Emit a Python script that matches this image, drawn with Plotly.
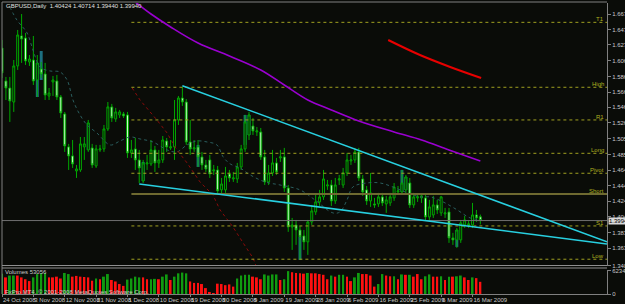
import plotly.graph_objects as go

# ---------------- data ----------------
idx = list(range(123))
opens = [1.6234,1.5806,1.5715,1.5533,1.6001,1.6390,1.6364,1.6053,1.6078,1.5819,
         1.5962,1.5897,1.5611,1.5793,1.5806,1.5598,1.5378,1.4950,1.4833,1.4638,
         1.4651,1.4950,1.4911,1.4937,1.4703,1.4911,1.4924,1.5183,1.5469,1.5313,
         1.5365,1.5378,1.5365,1.4872,1.4924,1.4781,1.4508,1.4729,1.4729,1.4911,
         1.4742,1.4781,1.5027,1.4937,1.4950,1.5300,1.5585,1.5533,1.5014,1.4924,
         1.4950,1.4820,1.4716,1.4781,1.4638,1.4651,1.4392,1.4392,1.4599,1.4534,
         1.4534,1.4690,1.4924,1.5105,1.5222,1.5144,1.5144,1.4820,1.4495,1.4612,
         1.4742,1.4807,1.4820,1.4417,1.3911,1.3937,1.3872,1.3795,1.3717,1.3976,
         1.4106,1.4236,1.4301,1.4443,1.4456,1.4249,1.4521,1.4456,1.4612,1.4768,
         1.4781,1.4885,1.4534,1.4392,1.4249,1.4210,1.4210,1.4301,1.4210,1.4223,
         1.4288,1.4366,1.4366,1.4392,1.4482,1.4197,1.4288,1.4288,1.4288,1.4041,
         1.4067,1.4197,1.4093,1.4080,1.4106,1.3769,1.3743,1.3743,1.3937,1.3937,
         1.3937,1.4067,1.40424]
highs = [1.6338,1.5858,1.5858,1.6078,1.6468,1.6675,1.6429,1.6143,1.6390,1.6143,
         1.6053,1.6040,1.5715,1.5871,1.5884,1.5624,1.5404,1.4989,1.5040,1.4716,
         1.5079,1.5079,1.5300,1.4989,1.4976,1.4976,1.5235,1.5533,1.5508,1.5456,
         1.5430,1.5404,1.5404,1.5040,1.5066,1.4911,1.4781,1.4846,1.5040,1.4963,
         1.4911,1.5092,1.5066,1.5040,1.5559,1.5611,1.5728,1.5572,1.5300,1.5040,
         1.5040,1.4885,1.4781,1.4846,1.4716,1.4703,1.4547,1.4690,1.4651,1.4625,
         1.4742,1.4976,1.5365,1.5404,1.5326,1.5209,1.5196,1.4911,1.4716,1.4911,
         1.4807,1.4911,1.4937,1.4456,1.4028,1.4002,1.3924,1.3872,1.4002,1.4197,
         1.4327,1.4392,1.4651,1.4521,1.4521,1.4547,1.4586,1.4677,1.4872,1.4846,
         1.4937,1.4937,1.4586,1.4443,1.4612,1.4288,1.4353,1.4353,1.4314,1.4353,
         1.4482,1.4443,1.4651,1.4586,1.4547,1.4353,1.4340,1.4340,1.4327,1.4262,
         1.4314,1.4262,1.4314,1.4158,1.4158,1.3834,1.3898,1.4002,1.4054,1.4002,
         1.4223,1.4132,1.40714]
lows = [1.5845,1.5559,1.5274,1.5404,1.5949,1.6040,1.6014,1.6001,1.5754,1.5598,
        1.5845,1.5559,1.5559,1.5611,1.5559,1.5326,1.4885,1.4651,1.4677,1.4547,
        1.4625,1.4781,1.4885,1.4677,1.4677,1.4885,1.4885,1.5157,1.5274,1.5274,
        1.5326,1.5326,1.4807,1.4807,1.4651,1.4482,1.4482,1.4651,1.4703,1.4625,
        1.4677,1.4742,1.4885,1.4911,1.4781,1.5235,1.5482,1.4976,1.4846,1.4885,
        1.4690,1.4651,1.4625,1.4547,1.4586,1.4340,1.4340,1.4353,1.4495,1.4495,
        1.4482,1.4651,1.4885,1.5040,1.5105,1.5092,1.4781,1.4456,1.4456,1.4573,
        1.4586,1.4755,1.4366,1.3847,1.3613,1.3678,1.3483,1.3613,1.3548,1.3937,
        1.4067,1.4184,1.4262,1.4392,1.4184,1.4210,1.4456,1.4417,1.4573,1.4716,
        1.4742,1.4508,1.4314,1.4197,1.4171,1.4158,1.4171,1.4184,1.4093,1.4184,
        1.4249,1.4327,1.4327,1.4340,1.4158,1.4158,1.4236,1.4223,1.3989,1.4002,
        1.4028,1.4080,1.4054,1.4028,1.3704,1.3678,1.3639,1.3704,1.3898,1.3898,
        1.3898,1.3976,1.39440]
closes = [1.5910,1.5715,1.5546,1.6001,1.6403,1.6351,1.6066,1.6091,1.5806,1.6040,
          1.5897,1.5624,1.5650,1.5819,1.5598,1.5391,1.4963,1.4833,1.4729,1.4664,
          1.4989,1.4989,1.5261,1.4716,1.4924,1.4924,1.5183,1.5469,1.5326,1.5404,
          1.5404,1.5352,1.4872,1.4911,1.4781,1.4677,1.4742,1.4742,1.4911,1.4742,
          1.4781,1.5040,1.4950,1.4950,1.5300,1.5585,1.5533,1.5014,1.4924,1.4937,
          1.4820,1.4716,1.4664,1.4599,1.4651,1.4379,1.4469,1.4573,1.4547,1.4547,
          1.4690,1.4924,1.5274,1.5365,1.5157,1.5157,1.4820,1.4495,1.4612,1.4742,
          1.4625,1.4820,1.4417,1.3911,1.3937,1.3872,1.3782,1.3717,1.3976,1.4119,
          1.4236,1.4301,1.4534,1.4456,1.4249,1.4456,1.4534,1.4612,1.4781,1.4781,
          1.4885,1.4547,1.4366,1.4249,1.4353,1.4197,1.4301,1.4223,1.4262,1.4301,
          1.4430,1.4379,1.4482,1.4560,1.4197,1.4301,1.4301,1.4314,1.4041,1.4171,
          1.4197,1.4132,1.4301,1.4093,1.3769,1.3743,1.3872,1.3963,1.4002,1.3950,
          1.4067,1.4028,1.39940]

volumes = [54600,45000,50000,50000,50000,45000,40000,35000,45000,54000,
           56000,57000,45000,45000,47000,42000,57000,54000,47000,49000,
           47000,46000,45000,36000,42000,40000,47000,54000,38000,34000,
           27000,22000,39000,42000,47000,45000,45000,40000,40000,41000,
           40000,47000,53000,38000,47000,56000,58000,56000,34000,30000,
           30000,27000,16000,4000,2000,28000,27000,24000,26000,20000,
           42000,50000,52000,52000,47000,45000,40000,53000,50000,53000,
           53000,38000,40000,62000,59000,57000,56000,55000,57000,56000,
           56000,54000,52000,40000,50000,47000,52000,52000,47000,35000,
           45000,57000,54000,54000,50000,20000,27000,54000,50000,48000,
           48000,40000,53000,52000,52000,47000,54000,40000,48000,53000,
           47000,47000,48000,38000,47000,47000,48000,50000,45000,38000,
           45000,43000,33000]
volume_rising = [1,0,1,1,0,0,0,0,1,1,1,1,0,0,0,0,1,1,0,0,0,0,0,0,1,0,1,1,0,0,
                 0,0,1,1,1,1,0,0,1,1,0,1,1,0,1,1,1,1,0,0,0,0,0,0,0,0,0,0,0,0,
                 1,1,1,1,0,0,0,1,1,1,1,0,1,1,0,0,0,0,1,0,0,0,0,0,1,0,1,1,0,0,
                 1,1,0,0,0,0,1,1,0,0,1,0,1,0,1,0,0,0,1,1,0,0,1,0,1,0,1,1,0,0,
                 1,0,0]
volume_label = "Volumes 53056"
volume_max_label = 62348

teal_idx = [9, 10, 22, 36, 50, 62, 63, 76, 102, 103, 116]
teal_lo = [1.5598, 1.5819, 1.4911, 1.4508, 1.4690, 1.4976, 1.5105, 1.3483, 1.4366, 1.4392, 1.3652]
teal_hi = [1.6040, 1.6195, 1.5261, 1.4755, 1.4976, 1.5365, 1.5365, 1.3782, 1.4651, 1.4560, 1.3872]

fast_ma_x = [2.0,3.8,6.4,7.9,9.7,12.2,14.8,16.6,18.1,19.9,21.7,24.2,27.6,30.1,32.7,35.2,38.5,
             42.1,44.6,47.2,49.7,52.3,54.8,56.4,58.2,60.7,63.3,67.1,70.9,76.0,79.8,84.4,
             86.2,88.0,89.5,93.1,96.4,99.7,102.8,106.6,109.2,112.5,116.1,119.4,122.2]
fast_ma_y = [1.6766,1.6597,1.6429,1.6208,1.5988,1.5936,1.5923,1.5819,1.5559,1.5365,1.5235,
             1.5131,1.4975,1.5027,1.5079,1.5053,1.5014,1.4911,1.4885,1.4976,1.5027,1.5014,
             1.4976,1.4820,1.4729,1.4677,1.4586,1.4495,1.4456,1.4392,1.4262,1.4093,1.4106,
             1.4262,1.4430,1.4482,1.4482,1.4430,1.4366,1.4301,1.4301,1.4236,1.4132,1.4028,1.4002]

purple_ma_x = [33, 38, 43, 50, 58, 66, 72, 78, 84, 91, 100, 107, 114, 122]
purple_ma_y = [1.6870,1.6675,1.6507,1.6299,1.6130,1.5949,1.5754,1.5559,1.5430,1.5287,
               1.5144,1.5040,1.4911,1.4768]

red_ma_x = [98.5, 106.6, 114.3, 122.2]
red_ma_y = [1.6338, 1.6143, 1.5988, 1.5845]

red_dot_x = [33.2, 35.2, 39.5, 42.1, 44.6, 47.2, 50.5, 53.8, 55.6, 58.9, 61.5, 64.0, 64.8]
red_dot_y = [1.5715,1.5559,1.5300,1.5131,1.4911,1.4742,1.4495,1.4327,1.4132,1.3911,
             1.3704,1.3509,1.3405]

level_names = ["T1", "High", "R1", "Long", "Pivot", "Short", "S1", "Low"]
level_values = [1.6567, 1.5724, 1.5300, 1.4867, 1.4608, 1.4339, 1.3924, 1.3492]
level_start = 33

trend_upper = [(46, 1.5745), (122, 1.4323)]
trend_lower = [(35, 1.4469), (122, 1.3901)]

price_ticks = [1.66750, 1.64710, 1.62730, 1.60690, 1.58650, 1.56610, 1.54670, 1.52630,
               1.50550, 1.48510, 1.46470, 1.44430, 1.42450, 1.40410, 1.38370, 1.36330, 1.34050]
date_idx = [0, 8, 16, 24, 32, 40, 48, 56, 64, 72, 80, 88, 96, 104, 112, 120]
date_labels = ["24 Oct 2008", "3 Nov 2008", "12 Nov 2008", "21 Nov 2008", "1 Dec 2008",
               "10 Dec 2008", "19 Dec 2008", "30 Dec 2008", "9 Jan 2009", "19 Jan 2009",
               "28 Jan 2009", "6 Feb 2009", "16 Feb 2009", "25 Feb 2009", "6 Mar 2009",
               "16 Mar 2009"]
symbol = "GBPUSD,Daily"
last_price = 1.39940
copyright_text = "FxPro MT4, © 2001-2008 MetaQuotes Software Corp."

# ---------------- styling / layout constants ----------------
W, H = 625, 304
BG = "#0a0c08"
GRID = "#808080"
TXT = "#c8c8c8"
FONT = "Liberation Sans"
FS = 6
X_MAX = 154.3
Y_MIN, Y_MAX = 1.3404, 1.6818


def px_x(p):
    return p / W


def px_y(p):
    return (H - p) / H


fig = go.Figure()

# teal overlay bars
fig.add_trace(go.Bar(x=teal_idx, y=[hi - lo for hi, lo in zip(teal_hi, teal_lo)], base=teal_lo,
                     width=0.75, marker=dict(color="#1d7080", line=dict(width=0)),
                     xaxis="x", yaxis="y", hoverinfo="skip"))

# moving averages / dotted lines
fig.add_trace(go.Scatter(x=fast_ma_x, y=fast_ma_y, mode="lines",
                         line=dict(color="#2a5e5e", width=1, dash="dot", shape="spline"),
                         xaxis="x", yaxis="y", hoverinfo="skip"))
fig.add_trace(go.Scatter(x=red_dot_x, y=red_dot_y, mode="lines",
                         line=dict(color="#8a0a0a", width=1, dash="dot"),
                         xaxis="x", yaxis="y", hoverinfo="skip"))

# levels
for name, val in zip(level_names, level_values):
    if name == "Short":
        ln = dict(color="#6e6a30", width=2)
    else:
        ln = dict(color="#a0a020", width=1, dash="dot")
    fig.add_trace(go.Scatter(x=[level_start, X_MAX], y=[val, val], mode="lines", line=ln,
                             xaxis="x", yaxis="y", hoverinfo="skip"))
    fig.add_annotation(x=px_x(605), xref="paper", xanchor="right", y=val, yref="y",
                       yanchor="bottom", text=name, showarrow=False, yshift=-1,
                       font=dict(family=FONT, size=FS, color="#b0b020"), borderpad=0)

# current price line
fig.add_trace(go.Scatter(x=[0, X_MAX], y=[last_price, last_price], mode="lines",
                         line=dict(color="#707070", width=1), xaxis="x", yaxis="y",
                         hoverinfo="skip"))

# candles
fig.add_trace(go.Candlestick(x=idx, open=opens, high=highs, low=lows, close=closes,
                             increasing=dict(line=dict(color="#00a800", width=1), fillcolor=BG),
                             decreasing=dict(line=dict(color="#00a800", width=1), fillcolor="#d6ffd6"),
                             whiskerwidth=0, xaxis="x", yaxis="y", hoverinfo="skip"))

# purple and red MAs
fig.add_trace(go.Scatter(x=purple_ma_x, y=purple_ma_y, mode="lines",
                         line=dict(color="#9a00d0", width=1.6, shape="spline"),
                         xaxis="x", yaxis="y", hoverinfo="skip"))
fig.add_trace(go.Scatter(x=red_ma_x, y=red_ma_y, mode="lines",
                         line=dict(color="#e80000", width=2, shape="spline"),
                         xaxis="x", yaxis="y", hoverinfo="skip"))


# trend lines (rays extended to the right edge)
def ray(pts):
    (x0, y0), (x1, y1) = pts
    slope = (y1 - y0) / (x1 - x0)
    return [x0, X_MAX], [y0, y0 + slope * (X_MAX - x0)]


for tl in (trend_upper, trend_lower):
    xs, ys = ray(tl)
    fig.add_trace(go.Scatter(x=xs, y=ys, mode="lines", line=dict(color="#28d0e0", width=1.6),
                             xaxis="x", yaxis="y", hoverinfo="skip"))

# volumes
vol_colors = ["#109a10" if r else "#ff1010" for r in volume_rising]
fig.add_trace(go.Bar(x=idx, y=volumes, width=0.5, marker=dict(color=vol_colors, line=dict(width=0)),
                     xaxis="x", yaxis="y2", hoverinfo="skip"))

fig.update_layout(
    width=W, height=H, margin=dict(l=0, r=0, t=0, b=0, autoexpand=False),
    paper_bgcolor=BG, plot_bgcolor=BG, showlegend=False, barmode="overlay",
    font=dict(family=FONT, size=FS, color=TXT),
    xaxis=dict(domain=[px_x(2), px_x(607)], range=[0, X_MAX], anchor="y2", automargin=False,
               rangeslider=dict(visible=False), showgrid=False, zeroline=False,
               tickmode="array", tickvals=date_idx, ticktext=date_labels, tickangle=0,
               ticks="outside", ticklen=2, tickcolor=GRID, ticklabelposition="outside right",
               tickfont=dict(family=FONT, size=FS, color=TXT),
               showline=True, linecolor=GRID, linewidth=1),
    yaxis=dict(domain=[px_y(266), px_y(3)], range=[Y_MIN, Y_MAX], side="right", automargin=False,
               showgrid=False, zeroline=False, tickmode="array", tickvals=price_ticks,
               ticktext=[f"{v:.5f}" for v in price_ticks], ticks="outside", ticklen=3,
               tickcolor=GRID, tickfont=dict(family=FONT, size=FS, color=TXT),
               showline=True, linecolor=GRID, linewidth=1, anchor="x"),
    yaxis2=dict(domain=[px_y(294), px_y(270)], range=[0, 65000], side="right", automargin=False,
                showgrid=False, zeroline=False, tickmode="array",
                tickvals=[0, volume_max_label], ticktext=["0", str(volume_max_label)],
                ticks="outside", ticklen=3, tickcolor=GRID,
                tickfont=dict(family=FONT, size=FS, color=TXT),
                showline=True, linecolor=GRID, linewidth=1, anchor="x"),
)

# frame and panel separator
shapes = [
    dict(type="line", xref="paper", yref="paper", x0=px_x(2), x1=px_x(2), y0=px_y(294), y1=px_y(2),
         line=dict(color=GRID, width=1)),
    dict(type="line", xref="paper", yref="paper", x0=px_x(2), x1=px_x(607), y0=px_y(2), y1=px_y(2),
         line=dict(color=GRID, width=1)),
    dict(type="line", xref="paper", yref="paper", x0=px_x(2), x1=px_x(607), y0=px_y(265.5), y1=px_y(265.5),
         line=dict(color="#909090", width=1)),
    dict(type="line", xref="paper", yref="paper", x0=px_x(2), x1=px_x(607), y0=px_y(268), y1=px_y(268),
         line=dict(color="#909090", width=1)),
]
fig.update_layout(shapes=shapes)

fig.add_annotation(x=px_x(4), y=px_y(6), xref="paper", yref="paper", xanchor="left", yanchor="middle",
                   text=f"{symbol}  {opens[-1]:.5f} {highs[-1]:.5f} {lows[-1]:.5f} {closes[-1]:.5f}",
                   showarrow=False, font=dict(family=FONT, size=FS, color="#e0e0e0"))
fig.add_annotation(x=px_x(3), y=px_y(272), xref="paper", yref="paper", xanchor="left", yanchor="middle",
                   text=volume_label, showarrow=False, font=dict(family=FONT, size=FS, color=TXT))
fig.add_annotation(x=px_x(3), y=px_y(291.5), xref="paper", yref="paper", xanchor="left", yanchor="middle",
                   text=copyright_text, showarrow=False, font=dict(family=FONT, size=FS, color=TXT))
fig.add_annotation(x=px_x(608), y=last_price, xref="paper", yref="y", xanchor="left", yanchor="middle",
                   text=f"{last_price:.5f}", showarrow=False, bgcolor="#d8d8d8", borderpad=0,
                   font=dict(family=FONT, size=FS, color="#000000"))

fig.write_html("out.html")
